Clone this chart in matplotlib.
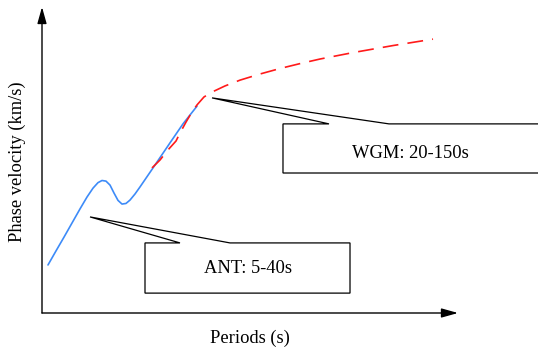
import matplotlib
matplotlib.use("Agg")
from matplotlib import pyplot as plt
from matplotlib.patches import Polygon

plt.rcParams['font.family'] = ['Liberation Serif', 'DejaVu Serif']

# ambient noise dispersion (blue)
ant_x = [1.44, 3.37, 5.29, 7.21, 9.13, 10.82, 12.26, 13.46, 14.42, 15.38, 16.35, 17.31,
         18.27, 19.23, 20.19, 21.15, 22.36, 23.56, 26.68, 30.77, 33.89, 37.26]
ant_y = [15.7, 20.3, 24.8, 29.4, 34.0, 37.9, 40.8, 42.6, 43.3, 43.1, 41.8, 39.2,
         36.8, 35.6, 35.8, 36.9, 38.9, 41.2, 47.4, 55.6, 61.8, 67.6]

# wave gradient dispersion (red dashed)
wgm_x = [26.44, 28.37, 30.29, 32.21, 33.17, 34.62, 36.06, 37.26, 38.94, 40.87, 43.99,
         47.60, 52.40, 57.21, 62.02, 66.83, 74.76, 84.38, 93.99]
wgm_y = [47.4, 50.0, 53.3, 56.2, 58.8, 62.4, 65.7, 68.0, 70.6, 72.2, 74.2,
         76.1, 78.1, 79.9, 81.5, 83.0, 85.1, 87.4, 89.5]

labels = ["ANT: 5-40s", "WGM: 20-150s"]

fig = plt.figure(figsize=(5.38, 3.52), dpi=100)
ax = fig.add_axes([42/538, 39/352, 416/538, 306/352])
ax.set_xlim(0, 100)
ax.set_ylim(0, 100)
ax.axis('off')

ax.plot(ant_x, ant_y, color='#3d8bf8', lw=1.2, solid_joinstyle='round',
        solid_capstyle='round')
ax.plot(wgm_x, wgm_y, color='#ff1a1a', lw=1.2, dashes=(9.5, 5.5))

# axis arrows
arr = dict(arrowstyle='-|>,head_length=1.0,head_width=0.28', color='black',
           lw=1.0, shrinkA=0, shrinkB=0)
ax.annotate('', xy=(0, 1), xytext=(0, 0), xycoords='axes fraction', arrowprops=arr)
ax.annotate('', xy=(1, 0), xytext=(0, 0), xycoords='axes fraction', arrowprops=arr)


def callout(tip, b1, b2, left, right, top, bottom, text, tx, ty):
    pts = [(left, top), b1, tip, b2, (right, top), (right, bottom), (left, bottom)]
    ax.add_patch(Polygon(pts, closed=True, facecolor='white', edgecolor='black',
                         lw=0.9, clip_on=False, joinstyle='miter'))
    ax.text(tx, ty, text, fontsize=13.3, ha='center', va='center')


callout((11.54, 31.4), (33.17, 22.9), (45.19, 22.9), 24.76, 74.04, 22.9, 6.5,
        labels[0], 49.5, 14.4)
callout((40.87, 70.3), (68.99, 61.8), (83.41, 61.8), 57.93, 119.7, 61.8, 45.75,
        labels[1], 88.46, 52.0)

fig.text(250/538, 1 - 338/352, "Periods (s)", fontsize=13.3, ha='center', va='center')
fig.text(17/538, 1 - 162/352, "Phase velocity (km/s)", fontsize=13.3,
         ha='center', va='center', rotation=90)

fig.savefig("out.png", dpi=100)
